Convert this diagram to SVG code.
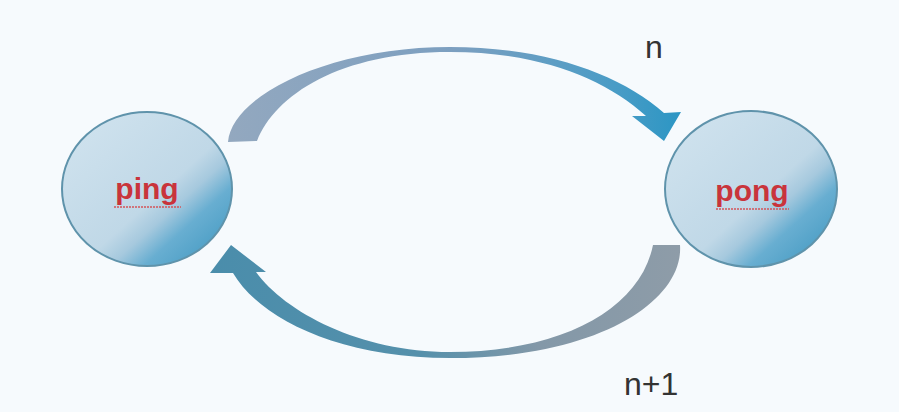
<svg xmlns="http://www.w3.org/2000/svg" width="899" height="412" viewBox="0 0 899 412">
  <defs>
    <linearGradient id="nodeFill" x1="0" y1="0" x2="1" y2="1">
      <stop offset="0" stop-color="#d2e4ef"/>
      <stop offset="0.55" stop-color="#c0d8e7"/>
      <stop offset="0.64" stop-color="#a6c9de"/>
      <stop offset="0.74" stop-color="#68aed1"/>
      <stop offset="1" stop-color="#3893bd"/>
    </linearGradient>
    <linearGradient id="topFill" x1="0" y1="0" x2="1" y2="0">
      <stop offset="0" stop-color="#93a8bf"/>
      <stop offset="0.5" stop-color="#7c9fc0"/>
      <stop offset="0.85" stop-color="#4a9cc6"/>
      <stop offset="1" stop-color="#2c96c4"/>
    </linearGradient>
    <linearGradient id="botFill" x1="0" y1="0" x2="1" y2="0">
      <stop offset="0" stop-color="#4a8dab"/>
      <stop offset="0.45" stop-color="#5590ab"/>
      <stop offset="0.7" stop-color="#8398a8"/>
      <stop offset="1" stop-color="#8e9ca8"/>
    </linearGradient>
  </defs>
  <style>
    .node { fill: url(#nodeFill); stroke: #5f93ab; stroke-width: 2; }
    .nlabel { font-family: "Liberation Sans", Arial, sans-serif; font-weight: bold; font-size: 30px; fill: #c9343b; text-anchor: middle; }
    .uline { stroke: #d4545a; stroke-width: 1.5; stroke-dasharray: 2 1; }
    .elabel { font-family: "Liberation Sans", Arial, sans-serif; font-size: 32px; fill: #333333; }
  </style>
  <rect x="0" y="0" width="899" height="412" fill="#f6fafd"/>

  <g id="connectors">
    <path id="edge-n" fill="url(#topFill)" d="M 228,142 C 232,95 330,47 450,47 C 545,47 620,74 664,113 L 681,112 L 664,141 L 632,116 L 646,116 C 605,79 540,52 450,52 C 340,52 275,95 257,141 Z"/>
    <path id="edge-n1" fill="url(#botFill)" d="M 680,245 C 684,300 600,358 450,358 C 335,358 258,316 233,273 L 210,273 L 231,245 L 266,272 L 256,272 C 285,312 360,352 450,352 C 560,352 640,310 653,245 Z"/>
    <text class="elabel" x="645" y="58">n</text>
    <text class="elabel" x="624" y="395">n+1</text>
  </g>

  <g id="node-ping">
    <ellipse class="node" cx="147" cy="189" rx="85" ry="77"/>
    <text class="nlabel" x="147" y="199">ping</text>
    <line class="uline" x1="114" y1="207" x2="181" y2="207"/>
  </g>

  <g id="node-pong">
    <ellipse class="node" cx="751" cy="189" rx="86" ry="78"/>
    <text class="nlabel" x="752" y="201">pong</text>
    <line class="uline" x1="716" y1="209" x2="789" y2="209"/>
  </g>
</svg>
